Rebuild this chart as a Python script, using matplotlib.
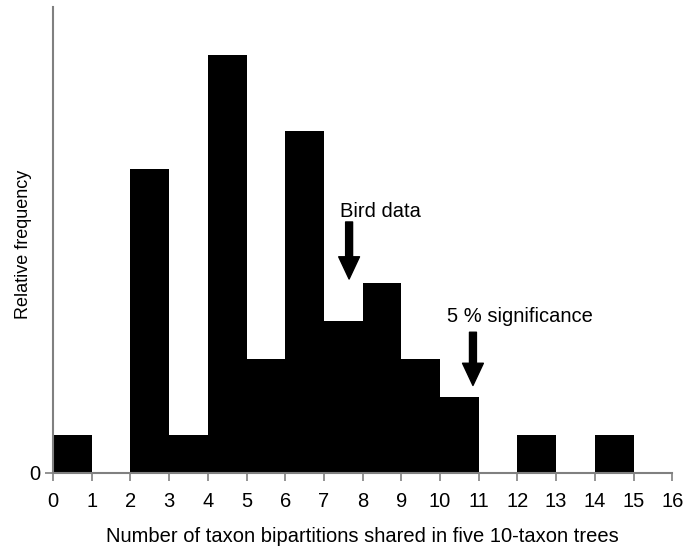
import matplotlib.pyplot as plt
import numpy as np

plt.rcParams['font.family'] = ['Liberation Sans', 'DejaVu Sans']

# bin left edges and counts
bin_edges = list(range(0, 17))
counts = [1, 0, 8, 1, 11, 3, 9, 4, 5, 3, 2, 0, 1, 0, 1, 0]

bird_x = 7.65
signif_x = 10.85

fig = plt.figure(figsize=(6.95, 5.48), dpi=100)
ax = fig.add_axes([0.0763, 0.137, 0.891, 0.85])

ax.bar(bin_edges[:-1], counts, width=1.0, align="edge", color="black", linewidth=0)

ax.set_xlim(0, 16)
ax.set_ylim(0, 12.25)
ax.set_xticks(bin_edges)
ax.set_yticks([0])
ax.tick_params(axis="both", labelsize=14.5, color="#808080", width=1.2, length=6, direction="out")
ax.tick_params(axis="x", pad=8)
ax.tick_params(axis="y", pad=3)

for side in ["top", "right"]:
    ax.spines[side].set_visible(False)
for side in ["left", "bottom"]:
    ax.spines[side].set_color("#808080")
    ax.spines[side].set_linewidth(1.5)

ax.set_xlabel("Number of taxon bipartitions shared in five 10-taxon trees", fontsize=14.5, va="center")
ax.xaxis.set_label_coords(0.499, -0.137)
ax.set_ylabel("Relative frequency", fontsize=13, va="center")
ax.yaxis.set_label_coords(-0.048, 0.491)

arrow = dict(facecolor="black", edgecolor="black", width=5, headwidth=15, headlength=16)
ax.annotate("", xy=(bird_x, 5.1), xytext=(bird_x, 6.6), arrowprops=arrow)
ax.text(8.45, 6.74, "Bird data", fontsize=14.5, ha="center", va="baseline")
ax.annotate("", xy=(signif_x, 2.3), xytext=(signif_x, 3.7), arrowprops=arrow)
ax.text(12.07, 3.97, "5 % significance", fontsize=14.5, ha="center", va="baseline")

plt.savefig("out.png", dpi=100)
plt.close()
